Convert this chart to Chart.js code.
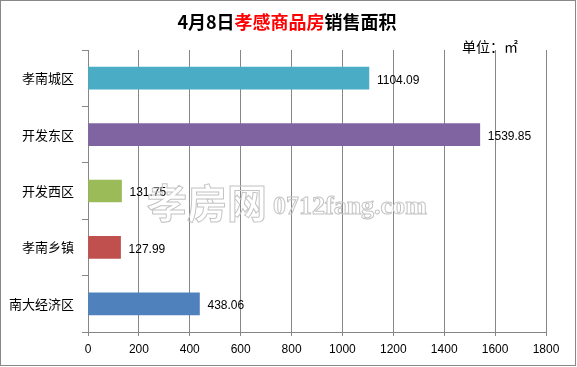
<!DOCTYPE html>
<html>
<head>
<meta charset="utf-8">
<script src="https://cdn.jsdelivr.net/npm/chart.js@4"></script>
<style>
  html, body { margin: 0; padding: 0; background: #fff; }
  #wrap { width: 577px; height: 367px; position: relative; }
</style>
</head>
<body>
<div id="wrap"><canvas id="chart" width="577" height="367"></canvas></div>
<script>
// Data
const categories = ['孝南城区', '开发东区', '开发西区', '孝南乡镇', '南大经济区'];
const areas = [1104.09, 1539.85, 131.75, 127.99, 438.06];
const barColors = ['#4BACC6', '#8064A2', '#9BBB59', '#C0504D', '#4F81BD'];
const xTicks = [0, 200, 400, 600, 800, 1000, 1200, 1400, 1600, 1800];

const titleParts = [
  { text: '4月8日', color: '#000' },
  { text: '孝感商品房', color: '#FF0000' },
  { text: '销售面积', color: '#000' }
];
const unitLabel = '单位：㎡';
const cjk = '"Noto Sans CJK SC", sans-serif';

// Title, unit, bar values, watermark, frame
const decor = {
  id: 'decor',
  afterDatasetsDraw(chart) {
    const ctx = chart.ctx;
    const meta = chart.getDatasetMeta(0);
    ctx.save();
    ctx.font = '12px "Liberation Sans", Arial, sans-serif';
    ctx.fillStyle = '#000';
    ctx.textAlign = 'left';
    ctx.textBaseline = 'middle';
    meta.data.forEach((bar, i) => {
      ctx.fillText(areas[i].toFixed(2), bar.x + 8, bar.y + 2);
    });
    ctx.restore();
  },
  afterDraw(chart) {
    const ctx = chart.ctx;
    ctx.save();
    // title
    ctx.font = 'bold 18px ' + cjk;
    ctx.textBaseline = 'middle';
    const total = titleParts.reduce((s, p) => s + ctx.measureText(p.text).width, 0);
    let x = 287 - total / 2;
    titleParts.forEach(p => {
      ctx.fillStyle = p.color;
      ctx.textAlign = 'left';
      ctx.fillText(p.text, x, 22);
      x += ctx.measureText(p.text).width;
    });
    // unit
    ctx.font = '14px ' + cjk;
    ctx.fillStyle = '#000';
    ctx.fillText(unitLabel, 462, 47);
    // watermark
    ctx.strokeStyle = '#c4c4c4';
    ctx.lineWidth = 1;
    ctx.textBaseline = 'middle';
    ctx.font = 'bold 40px ' + cjk;
    ctx.strokeText('孝房网', 147, 203);
    ctx.textBaseline = 'alphabetic';
    ctx.font = 'bold 26px "Liberation Serif", serif';
    ctx.strokeText('0712fang.com', 273, 214);
    // frame
    ctx.strokeStyle = '#888';
    ctx.lineWidth = 1;
    ctx.strokeRect(0.5, 0.5, 575, 365);
    ctx.restore();
  }
};

new Chart(document.getElementById('chart'), {
  type: 'bar',
  data: {
    labels: categories,
    datasets: [{
      data: areas,
      backgroundColor: barColors,
      barThickness: 22,
      borderWidth: 0
    }]
  },
  options: {
    indexAxis: 'y',
    responsive: false,
    animation: false,
    layout: { padding: { top: 50, right: 31, left: 0, bottom: 0 } },
    plugins: { legend: { display: false }, tooltip: { enabled: false }, title: { display: false } },
    scales: {
      x: {
        min: 0,
        max: 1800,
        afterBuildTicks: s => { s.ticks = xTicks.map(v => ({ value: v })); },
        afterFit: s => { s.height = 35; },
        grid: { color: '#868686', lineWidth: 1, drawTicks: true, tickLength: 4, tickColor: '#868686' },
        border: { display: true, color: '#868686' },
        ticks: {
          color: '#000', padding: 6, maxRotation: 0,
          font: { size: 12, family: '"Liberation Sans", Arial, sans-serif' },
          callback: v => String(v)
        }
      },
      y: {
        afterFit: s => { s.width = 88; },
        grid: { drawOnChartArea: false, drawTicks: true, tickLength: 6, tickColor: '#868686', offset: true },
        border: { display: true, color: '#868686' },
        ticks: { color: '#000', padding: 8, font: { size: 13, family: cjk } }
      }
    }
  },
  plugins: [decor]
});
</script>
</body>
</html>
